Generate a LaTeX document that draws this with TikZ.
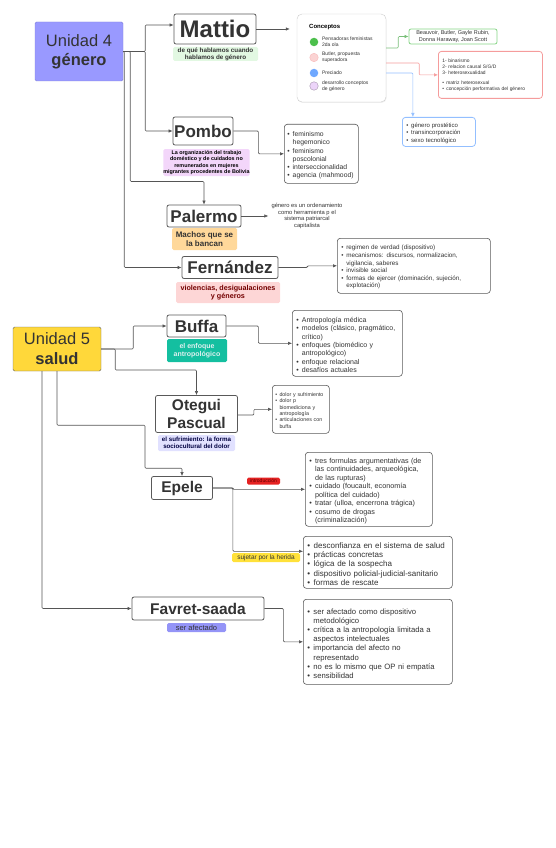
\documentclass[tikz,border=0pt]{standalone}
\usepackage{fontspec}
\setmainfont{Liberation Sans}
\usetikzlibrary{arrows.meta, positioning, shadows}
\definecolor{lineg}{HTML}{555555}
\definecolor{txtg}{HTML}{333333}
\definecolor{unipurple}{HTML}{9999FF}
\definecolor{uniyellow}{HTML}{FFD83A}
\definecolor{tagpurple}{HTML}{9494F7}
\definecolor{taggreen}{HTML}{E2F8E2}
\definecolor{taglilac}{HTML}{F3D6FA}
\definecolor{tagorange}{HTML}{FFD89A}
\definecolor{tagpink}{HTML}{FDD6D6}
\definecolor{tagteal}{HTML}{14BFA0}
\definecolor{tagblue}{HTML}{E1E1FF}
\definecolor{tagred}{HTML}{E52222}
\definecolor{tagyellow}{HTML}{FFE13A}
\definecolor{dotgreen}{HTML}{4CBF4C}
\definecolor{dotpink}{HTML}{FBD3D3}
\definecolor{dotblue}{HTML}{6FA8FF}
\definecolor{dotlilac}{HTML}{ECD4F9}
\definecolor{boxgreen}{HTML}{86D486}
\definecolor{boxred}{HTML}{F59C9C}
\definecolor{boxblue}{HTML}{93BFFF}
\hyphenpenalty=10000
\exhyphenpenalty=10000
\newcommand{\bitem}[1]{\par\hangindent=0.8em\hangafter=1\noindent\makebox[0.8em][l]{\textbullet}#1\par}

\begin{document}
\begin{tikzpicture}[x=1pt, y=-1pt,
  titlebox/.style={draw=black!65, line width=0.8pt, rounded corners=2pt, fill=white, text=txtg, inner sep=0pt, align=center},
  tag/.style={rounded corners=1.5pt, inner sep=0pt, align=center, text=txtg},
  listbox/.style={draw=black!65, line width=0.6pt, rounded corners=3pt, fill=white, align=left, inner xsep=4pt, inner ysep=2pt, text=txtg, anchor=north west},
  conn/.style={draw=lineg, line width=0.6pt, rounded corners=1pt, -{Latex[length=4pt, width=3.5pt]}},
  dot/.style={circle, inner sep=0pt, minimum size=8.5pt},
  dottext/.style={align=left, inner sep=0pt, text=txtg, font=\fontsize{5}{6}\selectfont}]
\useasboundingbox (0,0) rectangle (555,848);

% Unidad 4
\node[draw=unipurple!85!black, fill=unipurple, rounded corners=1.5pt, minimum width=88pt, minimum height=59pt, inner sep=0pt, align=center, text=txtg, font=\fontsize{16.5}{19}\selectfont] (u4) at (79,51.5) {Unidad 4\\\textbf{género}};

\node[titlebox, minimum width=82pt, minimum height=30pt, font=\bfseries\fontsize{24}{28}\selectfont] (mattio) at (215,29) {Mattio};
\node[tag, fill=taggreen, minimum width=85pt, minimum height=14pt, font=\bfseries\fontsize{6.3}{7.2}\selectfont] (mattiotag) at (215.5,54) {de qué hablamos cuando\\hablamos de género};

% conceptos
\node[draw=black!20, fill=white, rounded corners=5pt, minimum width=89pt, minimum height=88pt, drop shadow={opacity=0.12, shadow xshift=0.6pt, shadow yshift=-1pt}] (conc) at (341.5,58) {};
\node[anchor=west, inner sep=0pt, text=black, font=\bfseries\fontsize{6}{7}\selectfont] (conctitle) at (309,27) {Conceptos};
\node[dot, fill=dotgreen] (dgreen) at (314,42) {};
\node[dottext, right=3.5pt of dgreen] {Pensadoras feministas\\2da ola};
\node[dot, fill=dotpink, draw=boxred!70] (dpink) at (314,57.5) {};
\node[dottext, right=3.5pt of dpink] {Butler, propuesta\\superadora};
\node[dot, fill=dotblue] (dblue) at (314,73) {};
\node[dottext, right=3.5pt of dblue] {Preciado};
\node[dot, fill=dotlilac, draw=dotlilac!70!black] (dlilac) at (314,86) {};
\node[dottext, right=3.5pt of dlilac] {desarrollo conceptos\\de género};

\node[draw=boxgreen, line width=0.8pt, rounded corners=2pt, minimum width=88pt, minimum height=15pt, inner sep=0pt, align=center, text=txtg, font=\fontsize{5.5}{6.5}\selectfont] (greenbox) at (453,36.5) {Beauvoir, Butler, Gayle Rubin,\\Donna Haraway, Joan Scott};
\node[listbox, draw=boxred, line width=0.8pt, text width=96pt, minimum height=47pt, font=\fontsize{4.9}{6}\selectfont] (redbox) at (438,51) {1- binarismo\\2- relacion causal S/G/D\\3- heterosexualidad\par\vspace{4pt}\bitem{matriz heterosexual}\bitem{concepción performativa del género}};
\node[listbox, draw=boxblue, line width=0.8pt, text width=65pt, minimum height=29pt, font=\fontsize{6}{7.3}\selectfont] (bluebox) at (402,117) {\bitem{género prostético}\bitem{transincorporación}\bitem{sexo tecnológico}};

% Pombo
\node[titlebox, minimum width=60pt, minimum height=28pt, font=\bfseries\fontsize{17}{20}\selectfont] (pombo) at (203,131) {Pombo};
\node[tag, fill=taglilac, text=black, minimum width=83pt, minimum height=27pt, font=\bfseries\fontsize{5.4}{6.3}\selectfont] (pombotag) at (206.5,162.5) {La organización del trabajo\\doméstico y de cuidados no\\remunerados en mujeres\\migrantes procedentes de Bolivia};
\node[listbox, inner xsep=3pt, text width=68pt, minimum height=59pt, font=\fontsize{6.8}{8.2}\selectfont] (pomlist) at (284,124) {\bitem{feminismo hegemonico}\bitem{feminismo poscolonial}\bitem{interseccionalidad}\bitem{agencia (mahmood)}};

% Palermo
\node[titlebox, minimum width=74pt, minimum height=22pt, font=\bfseries\fontsize{17}{20}\selectfont] (palermo) at (204,216) {Palermo};
\node[tag, fill=tagorange, minimum width=65pt, minimum height=22pt, font=\bfseries\fontsize{8}{9.5}\selectfont] (palermotag) at (204.5,239) {Machos que se\\la bancan};
\node[align=center, inner sep=0pt, text=txtg, font=\fontsize{5.8}{6.5}\selectfont] (paltext) at (307,216) {género es un ordenamiento\\como herramienta p el\\sistema patriarcal\\capitalista};

% Fernandez
\node[titlebox, minimum width=96pt, minimum height=22pt, font=\bfseries\fontsize{17}{20}\selectfont] (fern) at (230,267.5) {Fernández};
\node[tag, fill=tagpink, text=red!45!black, minimum width=104pt, minimum height=21pt, font=\bfseries\fontsize{7.2}{8.6}\selectfont] (ferntag) at (228,292.5) {violencias, desigualaciones\\y géneros};
\node[listbox, text width=145pt, minimum height=55pt, font=\fontsize{6.3}{7.6}\selectfont] (fernlist) at (337,238) {\bitem{regimen de verdad (dispositivo)}\bitem{mecanismos: discursos, normalizacion, vigilancia, saberes}\bitem{invisible social}\bitem{formas de ejercer (dominación, sujeción, explotación)}};

% Unidad 5
\node[draw=black!60, fill=uniyellow, rounded corners=1.5pt, minimum width=88pt, minimum height=44pt, inner sep=0pt, align=center, text=txtg, font=\fontsize{16.5}{20}\selectfont] (u5) at (57,349) {Unidad 5\\\textbf{salud}};

\node[titlebox, minimum width=59pt, minimum height=22pt, font=\bfseries\fontsize{17}{20}\selectfont] (buffa) at (196.5,326) {Buffa};
\node[tag, fill=tagteal, text=white!88!teal, minimum width=60pt, minimum height=23pt, font=\bfseries\fontsize{7}{8.5}\selectfont] (buffatag) at (197,350.5) {el enfoque\\antropológico};
\node[listbox, text width=102pt, minimum height=66pt, font=\fontsize{7}{8.3}\selectfont] (bufflist) at (292,310) {\bitem{Antropología médica}\bitem{modelos (clásico, pragmático, crítico)}\bitem{enfoques (biomédico y antropológico)}\bitem{enfoque relacional}\bitem{desafíos actuales}};

\node[titlebox, minimum width=82pt, minimum height=37pt, font=\bfseries\fontsize{15.5}{17.5}\selectfont] (otegui) at (196.5,414) {Otegui\\Pascual};
\node[tag, fill=tagblue, text=blue!25!black, minimum width=77pt, minimum height=16pt, font=\bfseries\fontsize{6.2}{7.2}\selectfont] (oteguitag) at (196.5,443) {el sufrimiento: la forma\\sociocultural del dolor};
\node[listbox, inner xsep=3pt, text width=51pt, minimum height=48pt, font=\fontsize{5.3}{6.3}\selectfont] (otlist) at (272,385) {\bitem{dolor y sufrimiento}\bitem{dolor p biomediciona y antropología}\bitem{articulaciones con buffa}};

\node[titlebox, minimum width=61pt, minimum height=23pt, font=\bfseries\fontsize{15.5}{18}\selectfont] (epele) at (182,488) {Epele};
\node[listbox, text width=119pt, minimum height=74pt, font=\fontsize{7.2}{8.5}\selectfont] (ep1) at (305,452) {\bitem{tres formulas argumentativas (de las continuidades, arqueológica, de las rupturas)}\bitem{cuidado (foucault, economía política del cuidado)}\bitem{tratar (ulloa, encerrona trágica)}\bitem{cosumo de drogas (criminalización)}};
\node[listbox, text width=141pt, minimum height=52pt, font=\fontsize{8}{9.4}\selectfont] (ep2) at (303,536) {\bitem{desconfianza en el sistema de salud}\bitem{prácticas concretas}\bitem{lógica de la sospecha}\bitem{dispositivo policial-judicial-sanitario}\bitem{formas de rescate}};
\node[tag, fill=tagred, text=red!40!black, minimum width=33pt, minimum height=7pt, font=\fontsize{5}{6}\selectfont] (introtag) at (263.5,481) {introducción};
\node[tag, fill=tagyellow, minimum width=68pt, minimum height=9pt, font=\fontsize{6.5}{7.5}\selectfont] (herida) at (266,557.5) {sujetar por la herida};

\node[titlebox, minimum width=132pt, minimum height=23pt, font=\bfseries\fontsize{15.5}{18}\selectfont] (favret) at (198,608.5) {Favret-saada};
\node[tag, fill=tagpurple, minimum width=59pt, minimum height=9pt, font=\fontsize{7.5}{8.5}\selectfont] (favrettag) at (196.5,627.5) {ser afectado};
\node[listbox, text width=141pt, minimum height=85pt, font=\fontsize{7.7}{9.2}\selectfont] (favlist) at (303,599) {\bitem{ser afectado como dispositivo metodológico}\bitem{crítica a la antropología limitada a aspectos intelectuales}\bitem{importancia del afecto no representado}\bitem{no es lo mismo que OP ni empatía}\bitem{sensibilidad}};

% connectors
\draw[conn] (u4.east) -- ++(22,0) |- ([yshift=4pt]mattio.west);
\draw[conn] (u4.east) -- ++(22,0) |- (pombo.west);
\draw[conn] (u4.east) -- ++(7,0) -- ++(0,130) -| (palermo.north);
\draw[conn] (u4.east) -- ++(1,0) |- (fern.west);
\draw[conn] (mattio.east) -- ([xshift=-7pt]conc.west |- mattio.east);
\draw[conn, draw=boxgreen!90!black] ([yshift=10pt]conc.east) -- ++(12,0) |- (greenbox.west);
\draw[conn, draw=boxred] ([yshift=-5pt]conc.east) -- ++(33,0) |- (redbox.west);
\draw[conn, draw=boxblue] ([yshift=-15pt]conc.east) -| ([xshift=-26pt]bluebox.north);
\draw[conn] (pombo.east) -- ++(25,0) |- (pomlist.west);
\draw[conn] (palermo.east) -- ([xshift=-3pt]paltext.west);
\draw[conn] (fern.east) -- ++(29,0) |- (fernlist.west);

\draw[conn] (u5.east) -- ++(32,0) |- (buffa.west);
\draw[conn] (u5.east) -- ++(14,0) -- ++(0,21) -| (otegui.north);
\draw[conn] (u5.south) -- ++(0,54) -- ++(88,0) -- ++(0,43) -| (epele.north);
\draw[conn] ([xshift=-15pt]u5.south) |- (favret.west);
\draw[conn] (buffa.east) -- ++(32,0) |- (bufflist.west);
\draw[conn] ([yshift=-1pt]otegui.east) -- ++(16,0) |- (otlist.west);
\draw[conn] (epele.east) -- ++(20,0) |- (ep1.west);
\draw[conn] (epele.east) -- ++(20,0) |- ([yshift=11pt]ep2.west);
\draw[conn] (favret.east) -- ++(19,0) |- (favlist.west);
\end{tikzpicture}
\end{document}
